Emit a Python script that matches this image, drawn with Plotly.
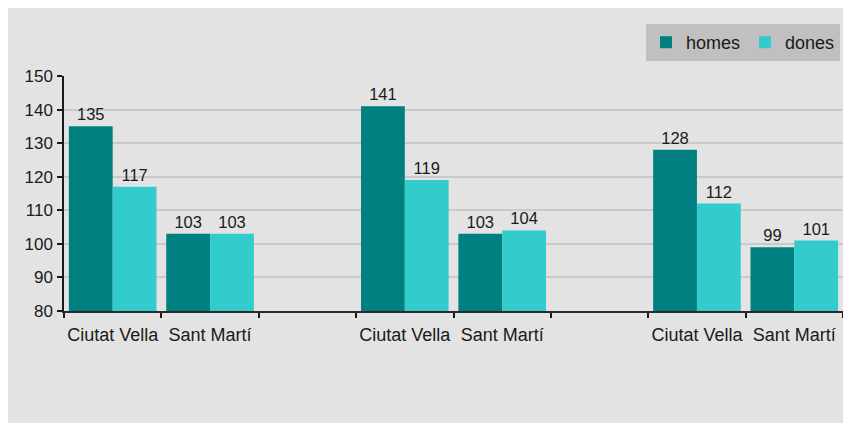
import plotly.graph_objects as go

categories = ["Ciutat Vella", "Sant Martí", "", "Ciutat Vella", "Sant Martí", "", "Ciutat Vella", "Sant Martí"]
homes = [135, 103, None, 141, 103, None, 128, 99]
dones = [117, 103, None, 119, 104, None, 112, 101]
y_ticks = [80, 90, 100, 110, 120, 130, 140, 150]

# page body adds an 8px offset; figure fills the rest of the window
W, H = 843, 415
ml, mr, mt, mb = 56, 8, 68, 112
pw, ph = W - ml - mr, H - mt - mb

xs = list(range(len(categories)))
font = "Liberation Sans, Arial, sans-serif"

def lbl(v):
    return [("" if x is None else str(x)) for x in v]

fig = go.Figure()
fig.add_trace(go.Bar(x=xs, y=homes, name="homes", marker_color="#008080",
                     marker_line_width=0,
                     text=lbl(homes), textposition="outside", cliponaxis=False,
                     textfont=dict(size=16.5, color="#1a1a1a", family=font)))
fig.add_trace(go.Bar(x=xs, y=dones, name="dones", marker_color="#33CCCC",
                     marker_line_width=0,
                     text=lbl(dones), textposition="outside", cliponaxis=False,
                     textfont=dict(size=16.5, color="#1a1a1a", family=font)))

fig.update_layout(
    width=W, height=H,
    margin=dict(l=ml, r=mr, t=mt, b=mb, pad=0, autoexpand=False),
    paper_bgcolor="#e3e3e3", plot_bgcolor="#e3e3e3",
    barmode="group", bargap=0.1, bargroupgap=0,
    font=dict(family=font, color="#1a1a1a"),
    legend=dict(orientation="h", xref="container", yref="container",
                xanchor="right", yanchor="top",
                x=832 / W, y=1 - 16 / H,
                bgcolor="#c0c0c0", font=dict(size=18, family=font, color="#1a1a1a"),
                itemwidth=30, tracegroupgap=0),
    showlegend=True,
)
fig.update_xaxes(
    automargin=False,
    range=[-0.5, len(categories) - 0.5],
    tickmode="array", tickvals=xs, ticktext=categories,
    ticks="outside", ticklen=7, tickcolor="rgba(0,0,0,0)",
    tickfont=dict(size=18, family=font, color="#1a1a1a"),
    showline=True, linecolor="#2a2a2a", linewidth=1.5,
    showgrid=False, zeroline=False, fixedrange=True,
    minor=dict(tickvals=[i - 0.5 for i in range(len(categories) + 1)],
               ticks="outside", ticklen=5, tickcolor="#1a1a1a", tickwidth=1.5, showgrid=False),
)
fig.update_yaxes(
    automargin=False,
    range=[80, 150], tickmode="array", tickvals=y_ticks,
    ticks="outside", ticklen=5, tickcolor="#1a1a1a", tickwidth=1.5,
    ticklabelstandoff=1,
    tickfont=dict(size=17, family=font, color="#1a1a1a"),
    showline=True, linecolor="#1a1a1a", linewidth=1.5,
    showgrid=True, gridcolor="#cacaca", gridwidth=1.5, zeroline=False,
)

fig.write_html("out.html")
